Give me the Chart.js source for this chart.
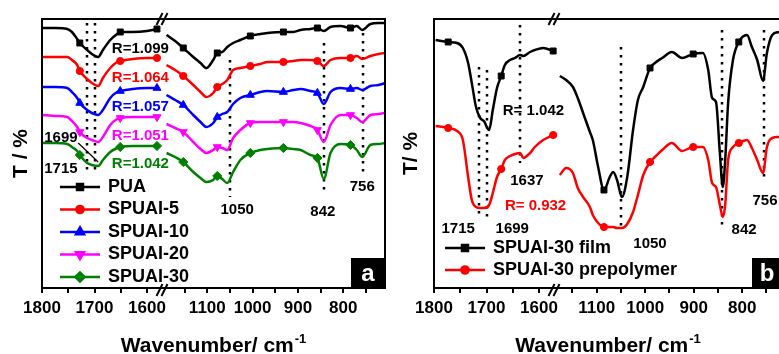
<!DOCTYPE html>
<html>
<head>
<meta charset="utf-8">
<script src="https://cdn.jsdelivr.net/npm/chart.js@4.4.1/dist/chart.umd.min.js"></script>
<style>
  html, body { margin: 0; padding: 0; background: #fff; overflow: hidden; }
  #wrap { position: relative; width: 779px; height: 354px; overflow: hidden; }
  #boxA { position: absolute; left: 0; top: 0; }
  #boxB { position: absolute; left: 390px; top: 0; }
</style>
</head>
<body>
<div id="wrap">
  <div id="boxA"><canvas id="chartA" width="390" height="354"></canvas></div>
  <div id="boxB"><canvas id="chartB" width="395" height="354"></canvas></div>
</div>
<script>
const FONT = '"Liberation Sans", Arial, Helvetica, sans-serif';

// ---- panel a: films with different SPUAI content ----
const wnLeftA = [1800, 1775, 1752, 1743, 1733, 1728, 1714, 1705, 1693, 1684, 1670, 1657, 1651, 1627, 1600, 1581];
const wnRightA = [1190, 1171, 1153, 1131, 1115, 1102, 1087, 1078, 1067, 1056, 1043, 1027, 1005, 983, 967, 932, 910, 894, 872, 857, 843, 828, 806, 784, 770, 758, 740, 722, 707];

const puaLeft = [260, 260, 259, 256, 249, 245, 238, 234, 231, 238, 248, 254, 256, 256, 257, 259];
const puaRight = [253, 247, 240, 231, 225, 220, 228, 235, 236, 241, 245, 248, 252, 254, 255, 256, 256, 258, 259, 260, 257, 261, 262, 260, 262, 258, 264, 265, 265];
const spuai5Left = [231, 231, 231, 228, 223, 217, 209, 205, 202, 210, 220, 226, 227, 229, 230, 230];
const spuai5Right = [223, 218, 212, 203, 196, 191, 195, 201, 204, 208, 218, 220, 222, 224, 226, 226, 227, 228, 228, 227, 222, 228, 230, 230, 232, 229, 232, 234, 235];
const spuai10Left = [201, 201, 200, 196, 190, 185, 178, 175, 173, 178, 190, 196, 197, 199, 200, 200];
const spuai10Right = [193, 188, 183, 173, 166, 161, 165, 171, 174, 176, 184, 190, 193, 196, 197, 196, 198, 199, 197, 195, 184, 196, 200, 199, 200, 198, 202, 203, 205];
const spuai20Left = [173, 172, 171, 167, 161, 156, 150, 148, 146, 151, 163, 169, 170, 171, 171, 171];
const spuai20Right = [164, 160, 156, 146, 139, 135, 138, 141, 140, 138, 150, 158, 165, 166, 166, 166, 166, 165, 162, 158, 146, 163, 173, 173, 170, 166, 173, 174, 175];
const spuai30Left = [145, 145, 144, 141, 137, 133, 125, 123, 122, 128, 136, 140, 141, 142, 142, 142];
const spuai30Right = [135, 131, 126, 116, 110, 106, 108, 112, 109, 105, 116, 128, 135, 138, 139, 140, 139, 138, 133, 130, 109, 135, 144, 143, 138, 131, 143, 144, 145];
const marksA = [1728, 1651, 1581, 1153, 1078, 1005, 932, 857, 784];

// ---- panel b: SPUAI-30 film vs prepolymer ----
const wnLeftB = [1797, 1773, 1756, 1745, 1735, 1728, 1720, 1712, 1705, 1695, 1688, 1680, 1672, 1665, 1655, 1646, 1636, 1630, 1617, 1608, 1592, 1573];
const wnRightB = [1176, 1163, 1149, 1139, 1128, 1114, 1108, 1097, 1085, 1073, 1066, 1058, 1048, 1037, 1025, 1015, 1004, 990, 980, 965, 945, 924, 901, 881, 870, 862, 854, 846, 840, 835, 829, 819, 807, 790, 780, 769, 757, 749, 738, 724];

const filmLeft = [248, 246, 245, 240, 225, 205, 181, 170, 167, 158, 178, 200, 212, 223, 228, 230, 233, 232, 236, 238, 240, 237];
const filmRight = [212, 208, 201, 190, 175, 156, 148, 121, 98, 111, 116, 108, 91, 111, 158, 188, 201, 220, 225, 230, 236, 230, 234, 235, 218, 190, 186, 135, 101, 128, 185, 228, 246, 253, 241, 228, 207, 235, 253, 256];
const prepolymerLeft = [162, 160, 157, 148, 111, 88, 81, 80, 80, 83, 95, 111, 119, 128, 132, 134, 135, 130, 135, 141, 148, 153];
const prepolymerRight = [113, 120, 115, 100, 91, 81, 73, 65, 61, 61, 61, 60, 60, 64, 76, 93, 113, 126, 131, 138, 145, 137, 141, 141, 128, 105, 101, 83, 71, 83, 128, 141, 145, 148, 140, 128, 115, 141, 150, 151];
const marksB = [1773, 1672, 1573, 1085, 990, 901, 807];

// axis ticks (labels only on the hundreds)
const ticksA = [1800, 1750, 1700, 1650, 1600, 1150, 1100, 1050, 1000, 950, 900, 850, 800, 750];
const ticksB = [1800, 1750, 1700, 1650, 1600, 1150, 1100, 1050, 1000, 950, 900, 850, 800, 750];

// broken wavenumber axis: 1800..~1570 on the left, then a second range after the break
function breakAxis(k1, k2, start2) {
  return wn => wn > 1400 ? (1800 - wn) * k1 : 120 + (start2 - wn) * k2;
}
const mapA = breakAxis(0.525, 0.453, 1200);
const mapB = breakAxis(0.525, 0.485, 1188);

function joinSeg(map, wn1, v1, wn2, v2) {
  const pts = wn1.map((w, i) => ({x: map(w), y: v1[i], wn: w}));
  pts.push({x: 120, y: null});
  return pts.concat(wn2.map((w, i) => ({x: map(w), y: v2[i], wn: w})));
}

function marker(ctx, s, x, y) {
  if (Chart.helpers && Chart.helpers.drawPoint) {
    Chart.helpers.drawPoint(ctx, {pointStyle: s.marker, rotation: s.rot || 0, radius: s.size, borderWidth: 1}, x, y);
  } else {
    ctx.beginPath(); ctx.arc(x, y, s.size, 0, Math.PI * 2); ctx.fill();
  }
}

function decor(opt) {
  return {
    id: 'decor',
    beforeDatasetsDraw(chart) {
      const {ctx, scales: {x, y}} = chart;
      ctx.save();
      ctx.strokeStyle = '#000';
      ctx.lineWidth = 2.5;
      ctx.setLineDash([2.5, 5.5]);
      opt.peaks.forEach(p => {
        const px = Math.round(x.getPixelForValue(opt.map(p.wn)));
        ctx.beginPath();
        ctx.moveTo(px, y.getPixelForValue(p.top));
        ctx.lineTo(px, y.getPixelForValue(p.bottom));
        ctx.stroke();
      });
      ctx.restore();
    },
    afterDraw(chart) {
      const {ctx, chartArea: ca, scales: {x, y}} = chart;
      ctx.save();
      // frame
      ctx.strokeStyle = '#000';
      ctx.lineWidth = 2;
      ctx.strokeRect(ca.left, ca.top, ca.right - ca.left, ca.bottom - ca.top);
      // axis break marks
      const bx = x.getPixelForValue(120);
      [ca.top, ca.bottom + 2].forEach(ey => {
        [-2.5, 2.5].forEach(dx => {
          ctx.beginPath();
          ctx.moveTo(bx + dx - 3, ey + 6);
          ctx.lineTo(bx + dx + 3, ey - 6);
          ctx.stroke();
        });
      });
      // peak labels
      ctx.textBaseline = 'middle';
      opt.labels.forEach(l => {
        ctx.font = `bold ${l.size}px ${FONT}`;
        ctx.fillStyle = l.color;
        ctx.textAlign = l.align;
        ctx.fillText(l.text, x.getPixelForValue(opt.map(l.wn)), y.getPixelForValue(l.t));
      });
      if (opt.leader) {
        const [a, b] = opt.leader;
        ctx.lineWidth = 1.2;
        ctx.beginPath();
        ctx.moveTo(x.getPixelForValue(opt.map(a.wn)), y.getPixelForValue(a.t));
        ctx.lineTo(x.getPixelForValue(opt.map(b.wn)), y.getPixelForValue(b.t));
        ctx.stroke();
      }
      // legend
      ctx.textAlign = 'left';
      ctx.font = `bold 18px ${FONT}`;
      opt.series.forEach((s, i) => {
        const lx = ca.left + opt.legend.x;
        const ly = ca.top + opt.legend.y + i * opt.legend.dy;
        ctx.strokeStyle = s.color;
        ctx.fillStyle = s.color;
        ctx.lineWidth = 2.5;
        ctx.beginPath(); ctx.moveTo(lx, ly); ctx.lineTo(lx + 40, ly); ctx.stroke();
        marker(ctx, s, lx + 20, ly);
        ctx.fillStyle = '#000';
        ctx.fillText(s.name, lx + 48, ly);
      });
      // panel letter
      const bw = opt.tag.w;
      ctx.fillStyle = '#000';
      ctx.fillRect(ca.right - bw, ca.bottom - 30, bw, 30);
      ctx.fillStyle = '#fff';
      ctx.font = `bold 24px ${FONT}`;
      ctx.textAlign = 'center';
      ctx.fillText(opt.tag.text, ca.right - bw / 2, ca.bottom - 14);
      // x title with superscript
      const main = 'Wavenumber/ cm', sup = '-1';
      ctx.fillStyle = '#000';
      ctx.textAlign = 'left';
      ctx.textBaseline = 'alphabetic';
      ctx.font = `bold 21px ${FONT}`;
      const w1 = ctx.measureText(main).width;
      ctx.font = `bold 13px ${FONT}`;
      const w2 = ctx.measureText(sup).width;
      const x0 = (ca.left + opt.titleRight) / 2 - (w1 + w2 + 1) / 2;
      ctx.font = `bold 21px ${FONT}`;
      ctx.fillText(main, x0, 352);
      ctx.font = `bold 13px ${FONT}`;
      ctx.fillText(sup, x0 + w1 + 1, 343);
      ctx.restore();
    }
  };
}

function makeChart(id, opt) {
  const map = opt.map;
  const datasets = opt.series.map(s => ({
    label: s.name,
    data: joinSeg(map, opt.left, s.left, opt.right, s.right),
    borderColor: s.color,
    backgroundColor: s.color,
    pointBackgroundColor: s.color,
    borderWidth: 2.5,
    pointStyle: s.marker,
    pointRotation: s.rot || 0,
    pointRadius: c => (c.raw && opt.marks.includes(c.raw.wn)) ? s.size : 0,
    pointHoverRadius: 0,
    pointBorderWidth: 1,
    cubicInterpolationMode: 'monotone',
    spanGaps: false
  }));
  return new Chart(document.getElementById(id), {
    type: 'line',
    data: {datasets},
    options: {
      responsive: false,
      animation: false,
      events: [],
      layout: {padding: {top: 19, right: opt.padRight, left: 0, bottom: 0}},
      plugins: {legend: {display: false}, tooltip: {enabled: false}},
      scales: {
        x: {
          type: 'linear', min: 0, max: opt.uMax,
          afterBuildTicks: s => { s.ticks = opt.ticks.map(w => ({value: map(w), wn: w})); },
          afterFit: s => { s.height = 66; },
          ticks: {
            autoSkip: false, maxRotation: 0, padding: 5, color: '#000',
            font: {family: FONT, size: 17, weight: 'bold'},
            callback: (v, i, t) => t[i].wn % 100 === 0 ? String(t[i].wn) : ''
          },
          grid: {drawOnChartArea: false, tickLength: 5, color: '#000', lineWidth: 2},
          border: {display: false}
        },
        y: {
          min: 0, max: 269,
          afterFit: s => { s.width = opt.yWidth; },
          ticks: {display: false},
          grid: {display: false},
          border: {display: false},
          title: {
            display: true, text: opt.yTitle, color: '#000',
            font: {family: FONT, size: 21, weight: 'bold'},
            padding: {top: 9, bottom: 0}
          }
        }
      }
    },
    plugins: [decor(opt)]
  });
}

makeChart('chartA', {
  map: mapA, uMax: 343, padRight: 5, yWidth: 42, yTitle: 'T / %', titleRight: 385,
  ticks: ticksA, left: wnLeftA, right: wnRightA, marks: marksA,
  series: [
    {name: 'PUA', color: '#000000', marker: 'rect', size: 4.2, left: puaLeft, right: puaRight},
    {name: 'SPUAI-5', color: '#ff0000', marker: 'circle', size: 3.6, left: spuai5Left, right: spuai5Right},
    {name: 'SPUAI-10', color: '#0000ff', marker: 'triangle', size: 4.6, left: spuai10Left, right: spuai10Right},
    {name: 'SPUAI-20', color: '#ff00ff', marker: 'triangle', rot: 180, size: 4.6, left: spuai20Left, right: spuai20Right},
    {name: 'SPUAI-30', color: '#008000', marker: 'rectRot', size: 4.6, left: spuai30Left, right: spuai30Right}
  ],
  peaks: [
    {wn: 1715, top: 265, bottom: 113}, {wn: 1699, top: 265, bottom: 113},
    {wn: 1050, top: 228, bottom: 91}, {wn: 842, top: 245, bottom: 94}, {wn: 756, top: 255, bottom: 115}
  ],
  labels: [
    {text: 'R=1.099', wn: 1667, t: 239, color: '#000000', align: 'left', size: 15},
    {text: 'R=1.064', wn: 1667, t: 210, color: '#ff0000', align: 'left', size: 15},
    {text: 'R=1.057', wn: 1667, t: 181, color: '#0000ff', align: 'left', size: 15},
    {text: 'R=1.051', wn: 1667, t: 152, color: '#ff00ff', align: 'left', size: 15},
    {text: 'R=1.042', wn: 1667, t: 124, color: '#008000', align: 'left', size: 15},
    {text: '1699', wn: 1764, t: 150, color: '#000', align: 'center', size: 15},
    {text: '1715', wn: 1764, t: 119, color: '#000', align: 'center', size: 15},
    {text: '1050', wn: 1034, t: 78, color: '#000', align: 'center', size: 15},
    {text: '842', wn: 845, t: 76, color: '#000', align: 'center', size: 15},
    {text: '756', wn: 758, t: 101, color: '#000', align: 'center', size: 15}
  ],
  leader: [{wn: 1731, t: 145}, {wn: 1693, t: 126}],
  legend: {x: 18, y: 168, dy: 22.5},
  tag: {text: 'a', w: 34}
});

makeChart('chartB', {
  map: mapB, uMax: 348, padRight: 3, yWidth: 44, yTitle: 'T/ %', titleRight: 392,
  ticks: ticksB, left: wnLeftB, right: wnRightB, marks: marksB,
  series: [
    {name: 'SPUAI-30 film', color: '#000000', marker: 'rect', size: 4.2, left: filmLeft, right: filmRight},
    {name: 'SPUAI-30 prepolymer', color: '#ff0000', marker: 'circle', size: 3.6, left: prepolymerLeft, right: prepolymerRight}
  ],
  peaks: [
    {wn: 1715, top: 221, bottom: 70}, {wn: 1699, top: 218, bottom: 66}, {wn: 1637, top: 263, bottom: 125},
    {wn: 1050, top: 241, bottom: 61}, {wn: 842, top: 258, bottom: 61}, {wn: 756, top: 258, bottom: 106}
  ],
  labels: [
    {text: 'R= 1.042', wn: 1669, t: 177, color: '#000000', align: 'left', size: 15},
    {text: 'R= 0.932', wn: 1665, t: 82, color: '#ff0000', align: 'left', size: 15},
    {text: '1637', wn: 1623, t: 107, color: '#000', align: 'center', size: 15},
    {text: '1715', wn: 1754, t: 59, color: '#000', align: 'center', size: 15},
    {text: '1699', wn: 1651, t: 59, color: '#000', align: 'center', size: 15},
    {text: '1050', wn: 990, t: 44, color: '#000', align: 'center', size: 15},
    {text: '842', wn: 796, t: 58, color: '#000', align: 'center', size: 15},
    {text: '756', wn: 753, t: 87, color: '#000', align: 'center', size: 15}
  ],
  legend: {x: 11, y: 229, dy: 22},
  tag: {text: 'b', w: 30}
});
</script>
</body>
</html>
